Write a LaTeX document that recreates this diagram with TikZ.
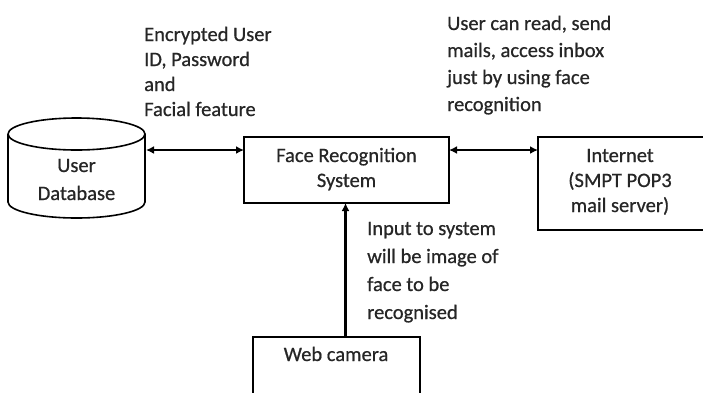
\documentclass[tikz,border=0pt]{standalone}
\usepackage{fontspec}
\setmainfont{Carlito}[FakeBold=0.7]
\usetikzlibrary{arrows.meta}
\begin{document}
\begin{tikzpicture}[x=1pt,y=-1pt,
  box/.style={draw,line width=1.6pt,inner sep=0pt},
  lbl/.style={align=left,anchor=base west,inner sep=0pt,text=black!85},
  ntext/.style={font=\fontsize{20.5}{25}\selectfont,align=center,inner sep=0pt,anchor=base,text=black!85},
  conn/.style={line width=2.4pt,{Latex[length=8pt,width=8pt]}-{Latex[length=8pt,width=8pt]}},
  conn1/.style={line width=2.4pt,-{Latex[length=8pt,width=8pt]}}]
\useasboundingbox (0,0) rectangle (703,392);
% cylinder
\draw[line width=1.6pt] (8,134) arc[start angle=180,end angle=540,x radius=68.5,y radius=16];
\draw[line width=1.6pt] (8,134) -- (8,202) arc[start angle=180,end angle=0,x radius=68.5,y radius=16] -- (145,134);
\node[ntext,font=\fontsize{20.5}{28}\selectfont] (db) at (76.5,200) {User\\Database};
\coordinate (dbr) at (146,150);
% boxes
\draw[box] (244,137) rectangle (449,203);
\node[ntext] (frs) at (346.5,187) {Face Recognition\\System};
\coordinate (frsL) at (244,150);
\coordinate (frsR) at (449,150);
\coordinate (frsB) at (345.5,203);
\draw[box] (538,137) rectangle (704,230);
\node[ntext] (inet) at (620,212) {Internet\\(SMPT POP3\\mail server)};
\coordinate (inetL) at (538,150);
\draw[box] (253,337) rectangle (420,394);
\node[ntext] (cam) at (336,361) {Web camera};
\coordinate (camT) at (345.5,337);
% connectors
\draw[conn] (dbr) -- (frsL);
\draw[conn] (frsR) -- (inetL);
\draw[conn1] (camT) -- (frsB);
% labels
\node[lbl,font=\fontsize{20.5}{25}\selectfont] (l1) at (144,116) {Encrypted User\\ID, Password\\and\\Facial feature};
\node[lbl,font=\fontsize{20.5}{27}\selectfont] (l2) at (447,111) {User can read, send\\mails, access inbox\\just by using face\\recognition};
\node[lbl,font=\fontsize{20.5}{28}\selectfont] (l3) at (367,319) {Input to system\\will be image of\\face to be\\recognised};
\end{tikzpicture}
\end{document}
